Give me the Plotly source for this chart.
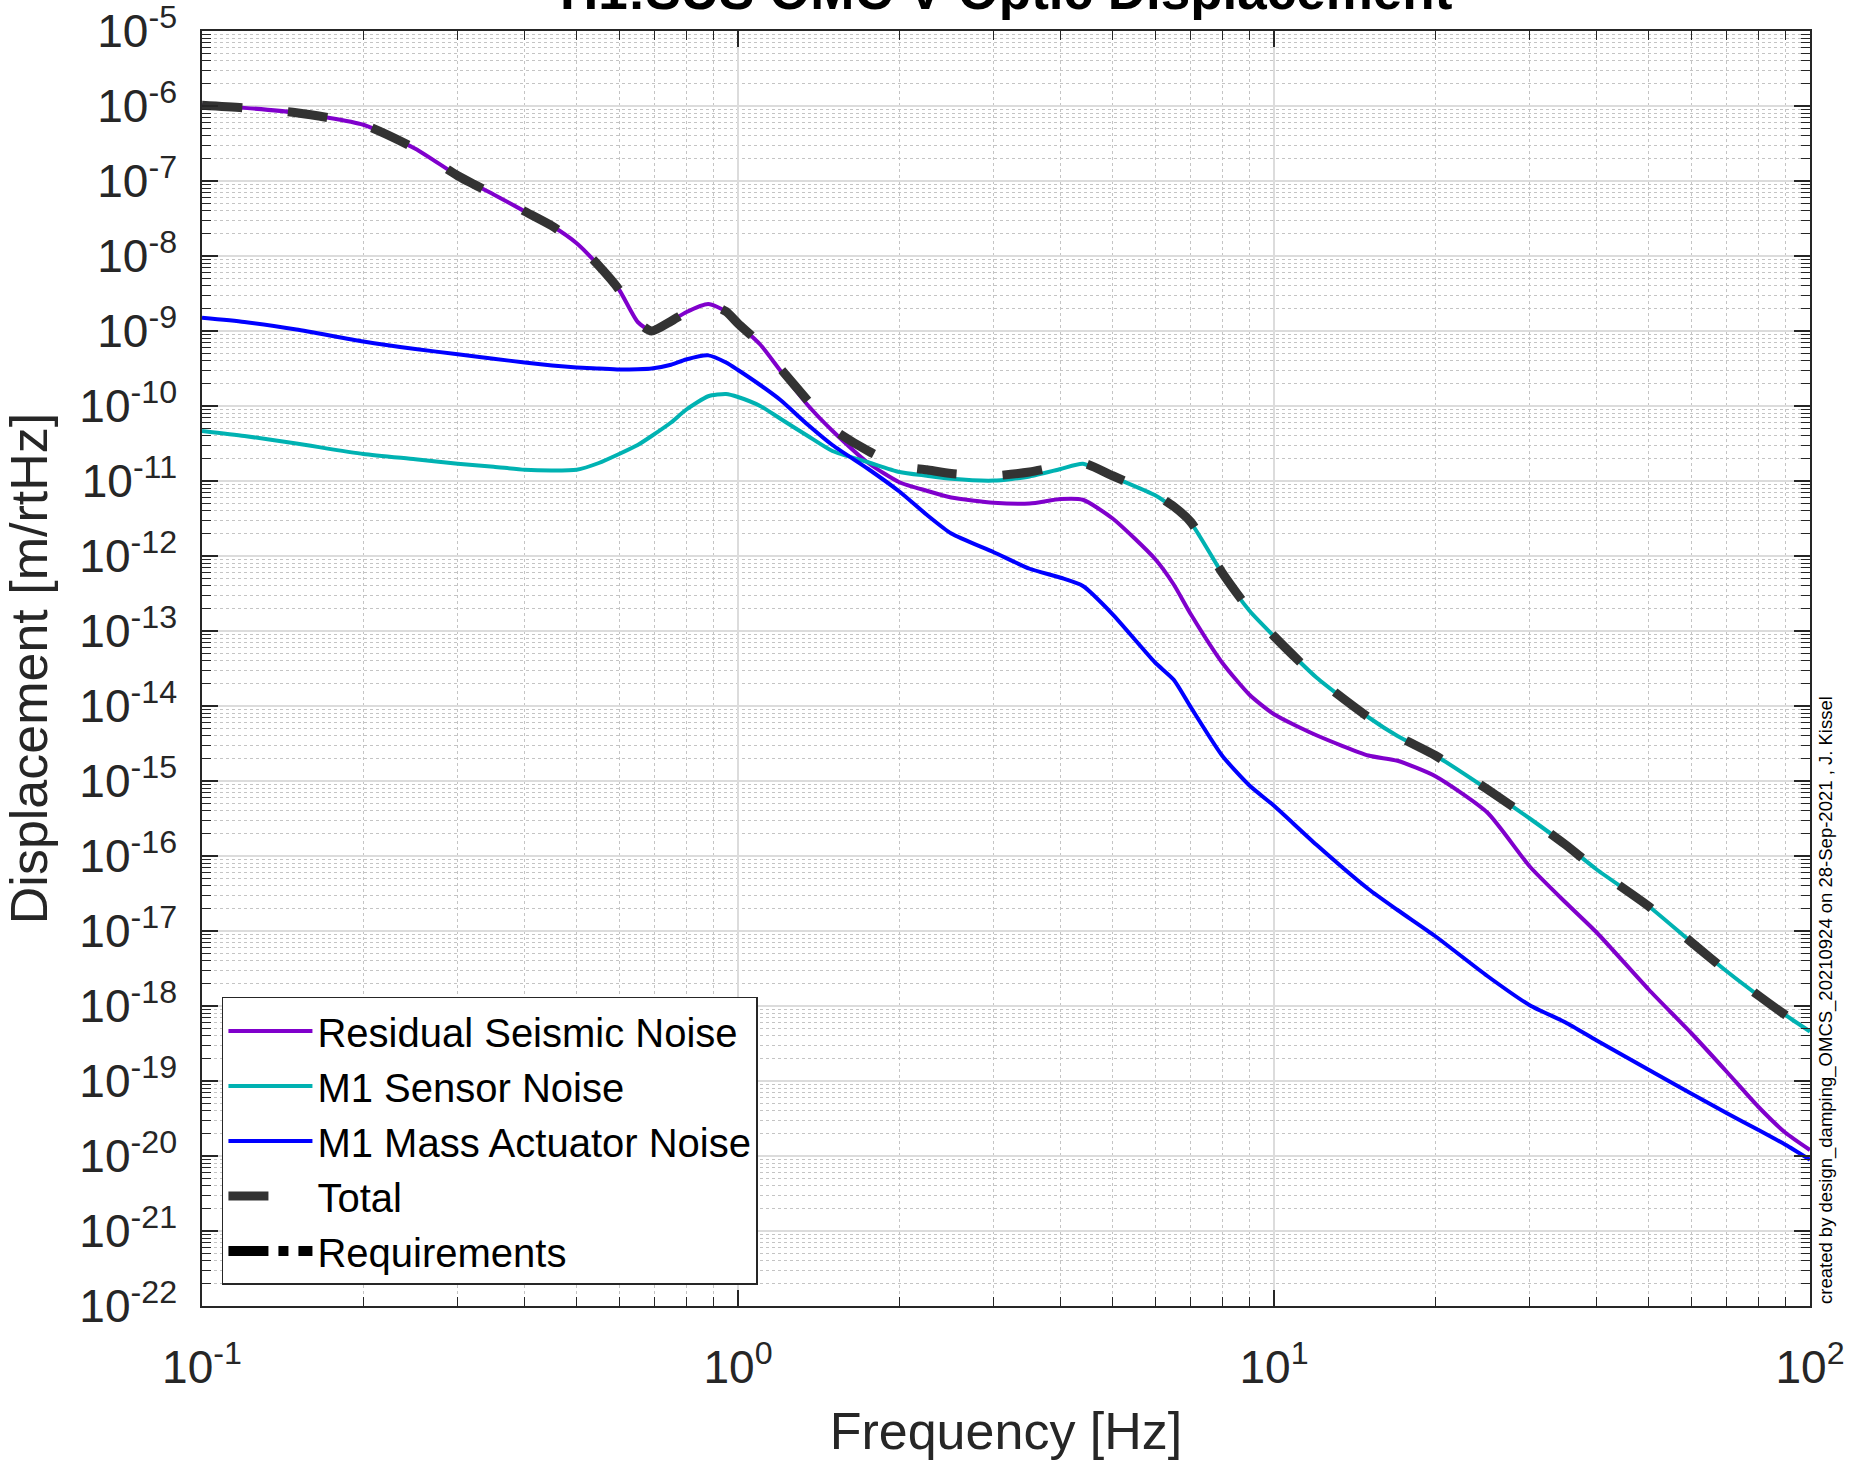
import numpy as np
import plotly.graph_objects as go

# ---------------- data ----------------
freq_hz = [0.1, 0.12, 0.15, 0.2, 0.25, 0.3, 0.35, 0.4, 0.45, 0.5,
           0.55, 0.6, 0.65, 0.69, 0.75, 0.8, 0.88, 0.95, 1.0, 1.1,
           1.2, 1.35, 1.5, 1.75, 2.0, 2.25, 2.5, 3.0, 3.5, 4.0, 4.4,
           5.0, 6.0, 6.5, 7.0, 8.0, 9.0, 10.0, 12.0, 15.0, 17.0,
           20.0, 25.0, 30.0, 35.0, 40.0, 50.0, 60.0, 70.0, 80.0, 90.0, 100.0]

# log10 of displacement [m/rtHz]
residual_seismic_log10 = [-5.99, -6.025, -6.09, -6.25, -6.57, -6.93, -7.18, -7.405, -7.60, -7.83,
                          -8.13, -8.45, -8.88, -9.00, -8.87, -8.75, -8.64, -8.74, -8.90, -9.18,
                          -9.53, -9.99, -10.33, -10.76, -11.016, -11.13, -11.22, -11.29, -11.30, -11.24, -11.25,
                          -11.50, -12.04, -12.38, -12.78, -13.42, -13.85, -14.11, -14.39, -14.66, -14.73,
                          -14.936, -15.42, -16.14, -16.62, -17.02, -17.78, -18.36, -18.88, -19.34, -19.69, -19.92]

m1_sensor_log10 = [-10.333, -10.40, -10.50, -10.64, -10.71, -10.77, -10.81, -10.85, -10.86, -10.85,
                   -10.76, -10.64, -10.52, -10.40, -10.22, -10.05, -9.87, -9.84, -9.88, -10.00,
                   -10.17, -10.40, -10.60, -10.75, -10.88, -10.93, -10.97, -10.995, -10.94, -10.84, -10.77,
                   -10.944, -11.19, -11.36, -11.56, -12.23, -12.73, -13.07, -13.62, -14.15, -14.40,
                   -14.66, -15.11, -15.50, -15.85, -16.18, -16.67, -17.146, -17.54, -17.857, -18.12, -18.34]

m1_actuator_log10 = [-8.824, -8.88, -8.98, -9.14, -9.24, -9.31, -9.37, -9.42, -9.46, -9.486,
                     -9.50, -9.514, -9.51, -9.50, -9.45, -9.38, -9.325, -9.42, -9.52, -9.72,
                     -9.92, -10.25, -10.52, -10.84, -11.14, -11.45, -11.70, -11.95, -12.17, -12.29, -12.40,
                     -12.777, -13.42, -13.65, -14.02, -14.66, -15.06, -15.33, -15.85, -16.44, -16.72,
                     -17.07, -17.60, -17.99, -18.22, -18.46, -18.85, -19.165, -19.43, -19.65, -19.85, -20.05]

total_log10 = [-5.99, -6.025, -6.09, -6.25, -6.57, -6.93, -7.18, -7.405, -7.60, -7.83,
               -8.13, -8.45, -8.88, -9.00, -8.87, -8.75, -8.64, -8.74, -8.90, -9.17,
               -9.50, -9.93, -10.30, -10.60, -10.80, -10.85, -10.90, -10.93, -10.88, -10.80, -10.76,
               -10.93, -11.18, -11.34, -11.55, -12.22, -12.72, -13.07, -13.62, -14.15, -14.40,
               -14.66, -15.11, -15.50, -15.85, -16.18, -16.67, -17.146, -17.54, -17.857, -18.12, -18.34]

x_tick_vals = [0.1, 1, 10, 100]
x_tick_text = ["10<sup>-1</sup>", "10<sup>0</sup>", "10<sup>1</sup>", "10<sup>2</sup>"]
y_exponents = list(range(-22, -4))
y_tick_vals = [10.0 ** e for e in y_exponents]
y_tick_text = ["10<sup>%d</sup>" % e for e in y_exponents]

title_text = "H1:SUS OMC V Optic Displacement"
x_title = "Frequency [Hz]"
y_title = "Displacement [m/rtHz]"
side_note = "created by design_damping_OMCS_20210924 on 28-Sep-2021 , J. Kissel"

# ---------------- figure ----------------
FONT = "Liberation Sans, Arial, Helvetica, sans-serif"
INK = "#262626"

fig = go.Figure()

def pw(vals):
    return [10.0 ** v for v in vals]

series = [
    ("Residual Seismic Noise", residual_seismic_log10, "rgb(128,0,204)"),
    ("M1 Sensor Noise", m1_sensor_log10, "rgb(0,178,178)"),
    ("M1 Mass Actuator Noise", m1_actuator_log10, "rgb(0,0,255)"),
]
for i, (name, vals, col) in enumerate(series):
    fig.add_trace(go.Scatter(
        x=freq_hz, y=pw(vals), mode="lines", name=name,
        legendgroup="g%d" % i,
        line=dict(color=col, width=4, shape="spline", smoothing=0.6)))

fig.add_trace(go.Scatter(
    x=freq_hz, y=pw(total_log10), mode="lines", name="Total",
    legendgroup="g3",
    line=dict(color="#333333", width=9, dash="40px,46px", shape="spline", smoothing=0.6)))

fig.add_trace(go.Scatter(
    x=[None], y=[None], mode="lines", name="Requirements",
    legendgroup="g4",
    line=dict(color="black", width=12, dash="40px,10px,10px,10px")))

axis_common = dict(
    type="log", showline=True, linecolor=INK, linewidth=1.5, mirror="ticks",
    ticks="inside", ticklen=16, tickwidth=1.5, tickcolor=INK,
    showgrid=True, gridcolor="#dcdcdc", gridwidth=1.5, zeroline=False,
    tickfont=dict(family=FONT, size=46, color=INK),
    ticklabeloverflow="allow",
    minor=dict(dtick="D1", ticks="inside", ticklen=9, tickwidth=1.2, tickcolor=INK,
               showgrid=True, gridcolor="#c4c4c4", griddash="dot", gridwidth=1),
    automargin=False,
)

fig.update_layout(
    width=1868, height=1460,
    margin=dict(l=202, r=58, t=31, b=154),
    paper_bgcolor="white", plot_bgcolor="white",
    font=dict(family=FONT, color=INK),
    xaxis=dict(axis_common, range=[-1, 2], tickvals=x_tick_vals, ticktext=x_tick_text,
               ticklabelstandoff=20,
               title=dict(text=x_title, font=dict(family=FONT, size=52, color=INK), standoff=30)),
    yaxis=dict(axis_common, range=[-22, -5], tickvals=y_tick_vals, ticktext=y_tick_text,
               ticklabelstandoff=14,
               title=dict(text=y_title, font=dict(family=FONT, size=52, color=INK), standoff=16)),
    legend=dict(x=0.0124, y=0.0165, xanchor="left", yanchor="bottom",
                bgcolor="white", bordercolor=INK, borderwidth=1.5,
                font=dict(family=FONT, size=40, color="black"),
                tracegroupgap=0, itemwidth=84, traceorder="grouped"),
    showlegend=True,
)

fig.add_annotation(text="<b>%s</b>" % title_text, xref="paper", yref="paper",
                   x=0.5, y=1.0314, xanchor="center", yanchor="middle", showarrow=False,
                   font=dict(family=FONT, size=53, color="black"))

fig.add_annotation(text=side_note, xref="paper", yref="paper",
                   x=(1826 - 202) / 1608, y=0.0, xanchor="center", yanchor="bottom",
                   textangle=-90, showarrow=False,
                   font=dict(family=FONT, size=18.5, color="black"))

fig.write_html("out.html")
